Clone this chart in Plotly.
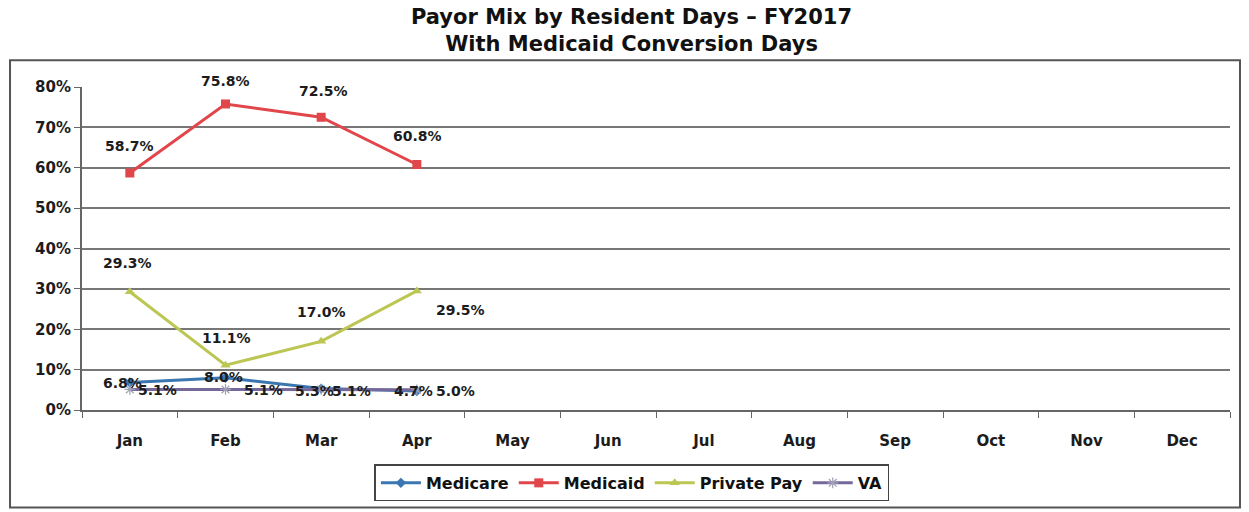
import plotly.graph_objects as go

months = ["Jan", "Feb", "Mar", "Apr", "May", "Jun", "Jul", "Aug", "Sep", "Oct", "Nov", "Dec"]
reported = ["Jan", "Feb", "Mar", "Apr"]

medicare = [0.068, 0.080, 0.053, 0.047]
medicaid = [0.587, 0.758, 0.725, 0.608]
private_pay = [0.293, 0.111, 0.170, 0.295]
va = [0.051, 0.051, 0.051, 0.050]

y_ticks = [0, 0.1, 0.2, 0.3, 0.4, 0.5, 0.6, 0.7, 0.8]
y_tick_text = ["0%", "10%", "20%", "30%", "40%", "50%", "60%", "70%", "80%"]

FONT = "DejaVu Sans"
TEXT = "#1c1c1c"

series = [
    # name, values, color, marker symbol, marker size, label offsets (px) per month
    ("Medicare", medicare, "#3a76b0", "diamond", 8, [(-7, 0), (-2, 1), (-7, -2), (-3, 0)]),
    ("Medicaid", medicaid, "#e0464a", "square", 9, [(0, 27), (0, 23), (2, 26), (1, 29)]),
    ("Private Pay", private_pay, "#bcc653", "triangle-up", 9, [(-2, 29), (1, 27), (0, 29), (44, -19)]),
    ("VA", va, "#76699a", "asterisk-open", 9, [(28, -1), (38, -1), (30, -2), (39, -1)]),
]

fig = go.Figure()

for name, values, color, symbol, msize, offsets in series:
    marker = dict(symbol=symbol, size=msize, color=color)
    if symbol == "asterisk-open":
        marker = dict(symbol=symbol, size=msize, color="#a0a0b8", line=dict(width=1.2, color="#a0a0b8"))
    fig.add_trace(go.Scatter(
        x=reported, y=values, name=name, mode="lines+markers",
        line=dict(color=color, width=3), marker=marker,
    ))
    # value labels
    for month, v, (dx, dy) in zip(reported, values, offsets):
        fig.add_annotation(
            x=month, y=v, text=f"<b>{v * 100:.1f}%</b>", showarrow=False,
            xshift=dx, yshift=dy, xanchor="center", yanchor="middle",
            font=dict(family=FONT, size=14, color=TEXT),
        )

# chart title
fig.add_annotation(
    xref="paper", yref="paper", x=0.479, y=1.176, xanchor="center", yanchor="middle",
    text="<b>Payor Mix by Resident Days – FY2017<br>With Medicaid Conversion Days</b>",
    showarrow=False, font=dict(family=FONT, size=21, color="#111111"),
)

# outer chart border
fig.add_shape(type="rect", xref="paper", yref="paper",
              x0=-0.0627, x1=1.0087, y0=-0.302, y1=1.083,
              line=dict(color="#555555", width=2), fillcolor="rgba(0,0,0,0)", layer="below")

fig.update_layout(
    width=1249, height=512,
    margin=dict(l=82, r=19, t=87, b=101),
    paper_bgcolor="white", plot_bgcolor="white",
    font=dict(family=FONT, color=TEXT),
    showlegend=True,
    legend=dict(
        orientation="h", x=0.479, xanchor="center", y=-0.165, yanchor="top",
        bordercolor="#444444", borderwidth=1.5,
        font=dict(family=FONT, size=16, color="#111111", weight="bold"),
        traceorder="normal", itemwidth=40,
    ),
    xaxis=dict(
        categoryorder="array", categoryarray=months, range=[-0.5, 11.5],
        tickmode="array", tickvals=months, ticktext=[f"<b>{m}</b>" for m in months],
        tickfont=dict(family=FONT, size=15, color=TEXT), ticklabelstandoff=16,
        showgrid=False, showline=True, linecolor="#666666", linewidth=2,
        ticks="outside", ticklen=6, tickcolor="#666666", tickson="boundaries",
    ),
    yaxis=dict(
        range=[0, 0.8], tickvals=y_ticks, ticktext=[f"<b>{t}</b>" for t in y_tick_text],
        tickfont=dict(family=FONT, size=15, color=TEXT),
        showgrid=True, gridcolor="#777777", gridwidth=1.5,
        showline=True, linecolor="#666666", linewidth=2,
        ticks="outside", ticklen=6, tickcolor="#666666",
        zeroline=False,
    ),
)

fig.write_html("out.html")
